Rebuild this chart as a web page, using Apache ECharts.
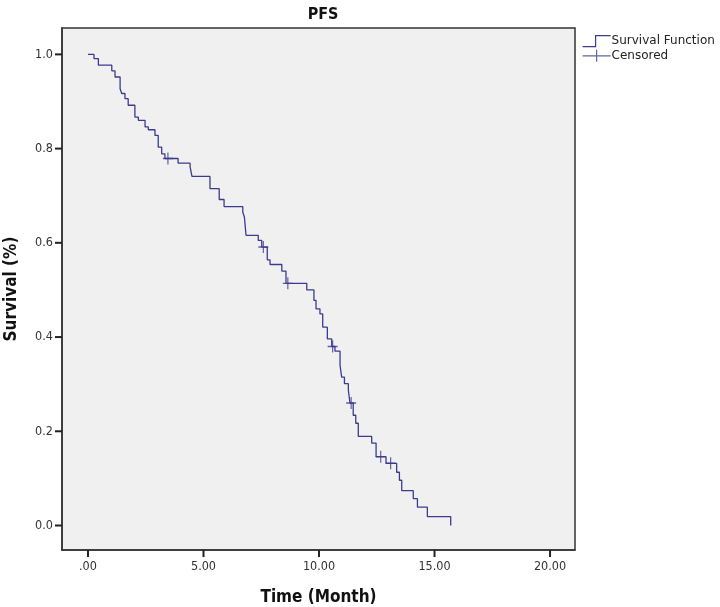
<!DOCTYPE html>
<html>
<head>
<meta charset="utf-8">
<script src="https://cdn.jsdelivr.net/npm/echarts@6/dist/echarts.min.js"></script>
<style>
html,body{margin:0;padding:0;background:#fff;}
#chart{width:720px;height:607px;}
</style>
</head>
<body>
<div id="chart"></div>
<script>
// Kaplan-Meier step points (time in months, survival after step)
const times = [0, 0.26, 0.45, 1.03, 1.17, 1.39, 1.46, 1.60, 1.74, 2.03, 2.18, 2.47, 2.61, 2.90, 3.04, 3.19, 3.33,
  3.90, 4.42, 4.50, 5.28, 5.68, 5.89, 6.70, 6.77, 6.84, 7.37, 7.52, 7.76, 7.88, 8.39, 8.57,
  9.47, 9.78, 9.87, 10.04, 10.16, 10.36, 10.55, 10.69, 10.91, 10.98, 11.10, 11.27, 11.34,
  11.48, 11.59, 11.70, 12.28, 12.47, 12.90, 13.36, 13.48, 13.58, 14.08, 14.26, 14.69, 15.70];
const survival = [1.0, 0.991, 0.977, 0.965, 0.952, 0.927, 0.917, 0.906, 0.892, 0.867, 0.860, 0.846, 0.840, 0.828, 0.803, 0.789, 0.779,
  0.769, 0.761, 0.741, 0.715, 0.692, 0.677, 0.665, 0.655, 0.616, 0.605, 0.591, 0.564, 0.554, 0.540, 0.514,
  0.500, 0.478, 0.460, 0.449, 0.421, 0.396, 0.380, 0.370, 0.340, 0.315, 0.301, 0.287, 0.260,
  0.234, 0.217, 0.189, 0.175, 0.146, 0.132, 0.113, 0.096, 0.074, 0.057, 0.039, 0.019, 0.0];
const censorTimes = [3.46, 7.59, 8.65, 10.59, 11.39, 12.67, 13.10];
const censorSurv = [0.779, 0.591, 0.514, 0.380, 0.260, 0.146, 0.132];
const xTicks = [0, 5, 10, 15, 20];
const yTicks = [0, 0.2, 0.4, 0.6, 0.8, 1.0];

const C = '#3b3b8e';
const X_MIN = -1.125, X_MAX = 21.08, Y_MIN = -0.052, Y_MAX = 1.056;
const kmData = times.map((t, i) => [t, survival[i]]);
const cData = censorTimes.map((t, i) => [t, censorSurv[i]]);
const plusPath = 'path://M0,6 L10,6 M5,0 L5,12';
const nameFont = 'Liberation Sans Narrow, DejaVu Sans Condensed, sans-serif';

const chart = echarts.init(document.getElementById('chart'), null, {renderer: 'canvas'});
chart.setOption({
  animation: false,
  backgroundColor: '#ffffff',
  title: {
    text: 'PFS', left: 318, top: 2, textAlign: 'center',
    textStyle: {fontSize: 16, fontWeight: 'bold', color: '#111', fontFamily: nameFont}
  },
  legend: {
    orient: 'vertical', left: 577, top: 30, itemGap: 2, itemWidth: 28, itemHeight: 12,
    textStyle: {fontSize: 12, color: '#222', fontFamily: 'DejaVu Sans, sans-serif', padding: [0,0,0,-4]},
    data: [
      {name: 'Survival Function', icon: 'path://M0,12 L13,12 L13,1 L28,1', itemStyle: {color: 'transparent', borderColor: C, borderWidth: 1.2}},
      {name: 'Censored', icon: 'path://M0,6 L28,6 M14,0 L14,12', itemStyle: {color: 'transparent', borderColor: C, borderWidth: 1.2}}
    ]
  },
  grid: {
    left: 62, right: 145, top: 28, bottom: 57,
    show: true, backgroundColor: '#f0f0f0', borderColor: '#333', borderWidth: 1.5,
    containLabel: false, outerBoundsMode: 'none'
  },
  xAxis: {
    type: 'value', min: X_MIN, max: X_MAX,
    name: 'Time (Month)', nameLocation: 'middle', nameGap: 39,
    nameTextStyle: {fontSize: 17, fontWeight: 'bold', color: '#111', fontFamily: nameFont},
    axisLine: {show: true, onZero: false, lineStyle: {color: '#333', width: 1.5}},
    axisTick: {show: false},
    axisLabel: {customValues: xTicks, margin: 10, fontSize: 12.5, color: '#333', fontFamily: 'DejaVu Sans Condensed, sans-serif',
      formatter: v => (v === 0 ? '.00' : v.toFixed(2))},
    splitLine: {show: false}
  },
  yAxis: {
    type: 'value', min: Y_MIN, max: Y_MAX,
    name: 'Survival (%)', nameLocation: 'middle', nameGap: 42,
    nameTextStyle: {fontSize: 17, fontWeight: 'bold', color: '#111', fontFamily: nameFont},
    axisLine: {show: true, onZero: false, lineStyle: {color: '#333', width: 1.5}},
    axisTick: {show: false},
    axisLabel: {customValues: yTicks, margin: 9, fontSize: 12.5, color: '#333', fontFamily: 'DejaVu Sans Condensed, sans-serif',
      formatter: v => v.toFixed(1)},
    splitLine: {show: false}
  },
  series: [
    {
      name: 'Survival Function', type: 'line', step: 'end', data: kmData,
      showSymbol: false, symbol: 'none',
      lineStyle: {color: C, width: 1.3},
      itemStyle: {color: C}
    },
    {
      name: 'Censored', type: 'scatter', data: cData,
      symbol: plusPath, symbolSize: [10, 12],
      itemStyle: {color: 'transparent', borderColor: C, borderWidth: 1.3}
    }
  ]
});

// Outward tick marks, placed through the axes' own scales
const tickEls = [];
xTicks.forEach(v => {
  const p = chart.convertToPixel({gridIndex: 0}, [v, Y_MIN]);
  tickEls.push({type: 'rect', silent: true, z: 100,
    shape: {x: p[0] - 1, y: p[1], width: 2, height: 7},
    style: {fill: '#222'}});
});
yTicks.forEach(v => {
  const p = chart.convertToPixel({gridIndex: 0}, [X_MIN, v]);
  tickEls.push({type: 'rect', silent: true, z: 100,
    shape: {x: p[0] - 7, y: p[1] - 1, width: 7, height: 2},
    style: {fill: '#222'}});
});
chart.setOption({graphic: {elements: tickEls}});
</script>
</body>
</html>
